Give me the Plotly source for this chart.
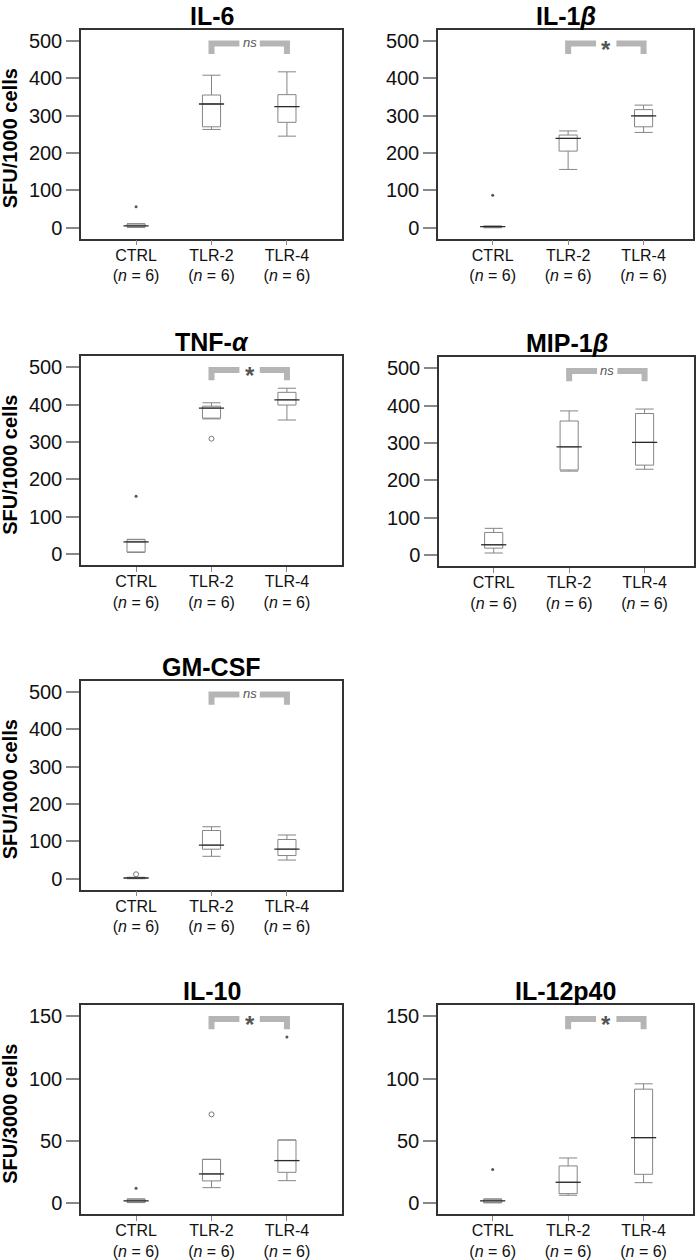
import plotly.graph_objects as go

# ---------------- data ----------------
GROUPS = ["CTRL", "TLR-2", "TLR-4"]
GROUP_LABELS = ["CTRL<br>(<i>n</i> = 6)", "TLR-2<br>(<i>n</i> = 6)", "TLR-4<br>(<i>n</i> = 6)"]

TITLES = ["IL-6", "IL-1<i>β</i>", "TNF-<i>α</i>", "MIP-1<i>β</i>", "GM-CSF", "IL-10", "IL-12p40"]
SIGNIF = ["ns", "*", "*", "ns", "ns", "*", "*"]
YMAX = [500, 500, 500, 500, 500, 150, 150]
YDTICK = [100, 100, 100, 100, 100, 50, 50]
YTITLE = ["SFU/1000 cells", None, "SFU/1000 cells", None, "SFU/1000 cells", "SFU/3000 cells", None]

# per panel: lower fence, q1, median, q3, upper fence for CTRL, TLR-2, TLR-4
IL6_LOWER = [1, 263, 245]
IL6_Q1 = [2, 270, 282]
IL6_MED = [5, 331, 324]
IL6_Q3 = [10, 355, 356]
IL6_UPPER = [11, 408, 417]

IL1B_LOWER = [0, 156, 255]
IL1B_Q1 = [1, 205, 270]
IL1B_MED = [3, 239, 299]
IL1B_Q3 = [4, 248, 316]
IL1B_UPPER = [5, 259, 328]

TNFA_LOWER = [5, 362, 359]
TNFA_Q1 = [6, 364, 399]
TNFA_MED = [33, 391, 413]
TNFA_Q3 = [39, 396, 433]
TNFA_UPPER = [40, 405, 444]

MIP1B_LOWER = [6, 225, 230]
MIP1B_Q1 = [19, 228, 241]
MIP1B_MED = [28, 290, 302]
MIP1B_Q3 = [61, 359, 379]
MIP1B_UPPER = [72, 386, 391]

GMCSF_LOWER = [0, 60, 50]
GMCSF_Q1 = [1, 79, 62]
GMCSF_MED = [2, 90, 79]
GMCSF_Q3 = [3, 129, 105]
GMCSF_UPPER = [4, 139, 117]

IL10_LOWER = [0.5, 12.5, 18.1]
IL10_Q1 = [0.8, 17.9, 24.8]
IL10_MED = [1.9, 23.5, 34.2]
IL10_Q3 = [3.2, 35.2, 50.7]
IL10_UPPER = [3.5, 35.2, 50.7]

IL12_LOWER = [0.3, 6.4, 16.5]
IL12_Q1 = [0.5, 7.7, 23.2]
IL12_MED = [1.9, 16.8, 52.6]
IL12_Q3 = [3.2, 29.9, 91.5]
IL12_UPPER = [3.5, 36.3, 95.8]

LOWERS = [IL6_LOWER, IL1B_LOWER, TNFA_LOWER, MIP1B_LOWER, GMCSF_LOWER, IL10_LOWER, IL12_LOWER]
Q1S = [IL6_Q1, IL1B_Q1, TNFA_Q1, MIP1B_Q1, GMCSF_Q1, IL10_Q1, IL12_Q1]
MEDS = [IL6_MED, IL1B_MED, TNFA_MED, MIP1B_MED, GMCSF_MED, IL10_MED, IL12_MED]
Q3S = [IL6_Q3, IL1B_Q3, TNFA_Q3, MIP1B_Q3, GMCSF_Q3, IL10_Q3, IL12_Q3]
UPPERS = [IL6_UPPER, IL1B_UPPER, TNFA_UPPER, MIP1B_UPPER, GMCSF_UPPER, IL10_UPPER, IL12_UPPER]

# outliers: panel index, group index, value, style ("dot" or "circle")
OUT_PANEL = [0, 1, 2, 2, 4, 5, 5, 5, 6]
OUT_GROUP = [0, 0, 0, 1, 0, 0, 1, 2, 0]
OUT_VALUE = [56, 87, 155, 309, 12, 12, 71.3, 133.4, 27]
OUT_STYLE = ["dot", "dot", "dot", "circle", "circle", "dot", "circle", "dot", "dot"]

# ---------------- layout (pixel frames of each panel) ----------------
W, H = 700, 1260
FRAMES = [(81, 342, 30, 239), (438, 693, 30, 239), (81, 342, 357, 566), (439, 694, 358, 567),
          (81, 342, 682, 891), (81, 342, 1007, 1216), (438, 693, 1007, 1216)]
XRANGES = [[0.27, 3.73], [0.275, 3.655], [0.27, 3.73], [0.275, 3.655], [0.27, 3.73], [0.27, 3.73], [0.275, 3.655]]

FONT = "Arial, Liberation Sans, Helvetica, sans-serif"
BOX_COLOR = "#858585"
MED_COLOR = "#2a2a2a"
BRACKET_COLOR = "#b5b5b5"

fig = go.Figure()
layout = dict(width=W, height=H, autosize=False, margin=dict(l=0, r=0, t=0, b=0),
              paper_bgcolor="white", plot_bgcolor="white", showlegend=False,
              font=dict(family=FONT, color="#111"))
annotations = []

for i in range(7):
    x0, x1, y0, y1 = FRAMES[i]
    xa = "x" if i == 0 else f"x{i+1}"
    ya = "y" if i == 0 else f"y{i+1}"
    xkey = "xaxis" if i == 0 else f"xaxis{i+1}"
    ykey = "yaxis" if i == 0 else f"yaxis{i+1}"
    ymax = YMAX[i]
    layout[xkey] = dict(domain=[x0 / W, x1 / W], anchor=ya, range=XRANGES[i],
                        tickvals=[1, 2, 3], ticktext=GROUP_LABELS, ticks="outside", ticklen=5,
                        tickcolor="#888", showline=True, mirror=True, linecolor="#333", linewidth=1.5,
                        showgrid=False, zeroline=False, tickfont=dict(size=16, color="#111"),
                        ticklabelstandoff=-4)
    layout[ykey] = dict(domain=[1 - y1 / H, 1 - y0 / H], anchor=xa,
                        range=[-0.058 * ymax, 1.058 * ymax], tick0=0, dtick=YDTICK[i],
                        ticks="outside", ticklen=13, tickcolor="#888", tickwidth=1.5,
                        showline=True, mirror=True, linecolor="#333", linewidth=1.5,
                        showgrid=False, zeroline=False, tickfont=dict(size=20, color="#111"))

    fig.add_trace(go.Box(x=[1, 2, 3], q1=Q1S[i], median=MEDS[i], q3=Q3S[i],
                         lowerfence=LOWERS[i], upperfence=UPPERS[i],
                         width=0.24, whiskerwidth=1, boxpoints=False,
                         line=dict(color=BOX_COLOR, width=1), fillcolor="white",
                         xaxis=xa, yaxis=ya, hoverinfo="skip"))
    # darker median lines
    fig.add_trace(go.Scatter(x=[1, 2, 3], y=MEDS[i], mode="markers", xaxis=xa, yaxis=ya,
                             marker=dict(symbol="line-ew", size=18,
                                         line=dict(color=MED_COLOR, width=1.3)),
                             hoverinfo="skip"))
    # outliers
    for k in range(len(OUT_PANEL)):
        if OUT_PANEL[k] != i:
            continue
        if OUT_STYLE[k] == "dot":
            mk = dict(symbol="circle", size=3, color="#555")
        else:
            mk = dict(symbol="circle-open", size=5, color="#777", line=dict(width=1))
        fig.add_trace(go.Scatter(x=[OUT_GROUP[k] + 1], y=[OUT_VALUE[k]], mode="markers",
                                 xaxis=xa, yaxis=ya, marker=mk, hoverinfo="skip"))

    # significance bracket between TLR-2 and TLR-4
    top = ymax * 0.985
    bot = ymax * 0.93
    fig.add_trace(go.Scatter(x=[2, 2, 2.37, None, 2.64, 3, 3],
                             y=[bot, top, top, None, top, top, bot],
                             mode="lines", xaxis=xa, yaxis=ya,
                             line=dict(color=BRACKET_COLOR, width=6), hoverinfo="skip"))
    if SIGNIF[i] == "ns":
        annotations.append(dict(x=2.505, y=ymax * 0.99, xref=xa, yref=ya, text="<i>ns</i>",
                                showarrow=False, font=dict(size=13, color="#555"), yanchor="middle"))
    else:
        annotations.append(dict(x=2.505, y=ymax * 0.955, xref=xa, yref=ya, text="<b>*</b>",
                                showarrow=False, font=dict(size=24, color="#555"), yanchor="middle"))

    # panel title
    annotations.append(dict(x=(x0 + x1) / 2 / W, y=1 - (y0 - 14) / H, xref="paper", yref="paper",
                            text=f"<b>{TITLES[i]}</b>", showarrow=False,
                            font=dict(size=25, color="#000"), xanchor="center", yanchor="middle"))
    if YTITLE[i]:
        annotations.append(dict(x=10 / W, y=1 - ((y0 + y1) / 2 + 4) / H, xref="paper", yref="paper",
                                text=f"<b>{YTITLE[i]}</b>", showarrow=False, textangle=-90,
                                font=dict(size=20, color="#000"), xanchor="center", yanchor="middle"))

layout["annotations"] = annotations
fig.update_layout(**layout)
fig.write_html("out.html", config={"displayModeBar": False},
               post_script="document.body.style.margin='0px';")
